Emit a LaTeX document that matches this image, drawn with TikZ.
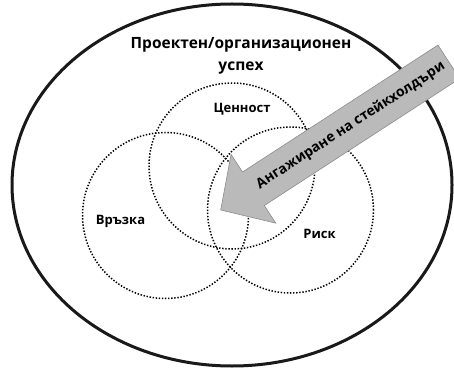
\documentclass[tikz,border=0pt]{standalone}
\usepackage{fontspec}
\setmainfont{Open Sans}
\usetikzlibrary{positioning}
\tikzset{
  outerring/.style={line width=3pt,black!90},
  venn/.style={circle,draw=black,line width=1.5pt,
    dash pattern=on 1.4pt off 1.7pt,minimum size=166pt,inner sep=0pt},
  vlbl/.style={font=\fontsize{13}{15}\selectfont\bfseries,inner sep=1pt},
  ttl/.style={font=\fontsize{15.5}{22}\selectfont\bfseries,align=center,inner sep=1pt},
  bigarrow/.style={fill=black!27,draw=black!45,line width=0.6pt},
  arrlbl/.style={font=\fontsize{14}{16}\selectfont\bfseries,inner sep=0pt},
}

\begin{document}
\begin{tikzpicture}[x=1pt,y=1pt]
  \useasboundingbox (0,0) rectangle (454,372);
  \clip (0,0) rectangle (454,372);
  \draw[outerring] (232,187) ellipse [x radius=220,y radius=181];
  \node[ttl] (succ) at (241,316) {Проектен/организационен\\успех};
  % three overlapping circles
  \node[venn] (val) at (232,206) {};
  \node[venn] (rel) at (165.5,156.5) {};
  \node[venn] (risk) at (290.5,162) {};
  \node[vlbl] (vallbl) at (242,262.5) {Ценност};
  \node[vlbl] (rellbl) at (120.5,151) {Връзка};
  \node[vlbl] (risklbl) at (319.5,138) {Риск};
  % stakeholder arrow
  \begin{scope}[shift={(220.7,162)},rotate=33]
    \draw[bigarrow] (0,0) -- (39,41) -- (39,20) -- (272,20) -- (272,-20)
      -- (39,-20) -- (39,-41) -- cycle;
    \node[arrlbl,rotate=33] (eng) at (155,0) {Ангажиране на стейкхолдъри};
  \end{scope}
\end{tikzpicture}
\end{document}
